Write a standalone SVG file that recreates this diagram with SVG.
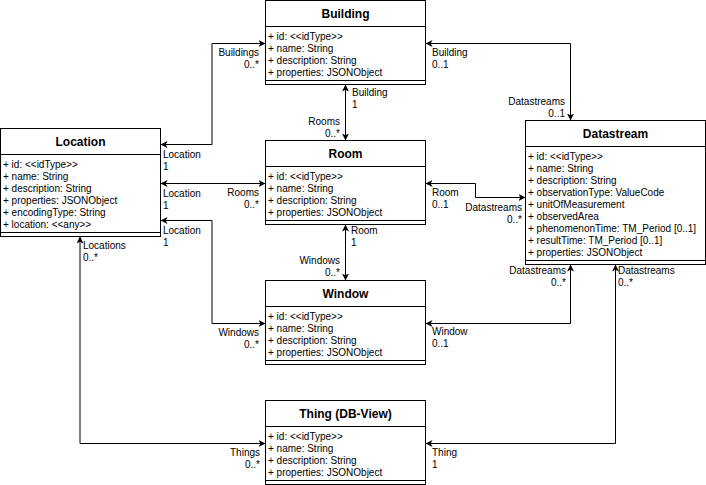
<svg xmlns="http://www.w3.org/2000/svg" width="706" height="485" viewBox="0 0 706 485">
<style>
.box{fill:#fff;stroke:#000;stroke-width:1}
.ln{stroke:#000;stroke-width:1;fill:none}
.t{font-family:"Liberation Sans",Arial,sans-serif;font-size:12px;font-weight:bold;text-anchor:middle;fill:#000}
.a{font-family:"Liberation Sans",Arial,sans-serif;font-size:10px;fill:#000}
.l{font-family:"Liberation Sans",Arial,sans-serif;font-size:10px;fill:#000}
.r{text-anchor:end}
.edge{stroke:#000;stroke-width:1;fill:none;marker-start:url(#arr);marker-end:url(#arr)}
</style>
<defs>
<marker id="arr" markerUnits="userSpaceOnUse" markerWidth="10" markerHeight="10" refX="7" refY="3.5" orient="auto-start-reverse">
<path d="M0,0 L7,3.5 L0,7 L1.8,3.5 Z" fill="#000"/>
</marker>
</defs>

<g id="Building">
<rect class="box" x="265.5" y="0.5" width="160" height="84"/>
<line class="ln" x1="265.5" y1="26.5" x2="425.5" y2="26.5"/>
<line class="ln" x1="265.5" y1="80.5" x2="425.5" y2="80.5"/>
<text class="t" x="345.5" y="18">Building</text>
<text class="a" x="268" y="40">+ id: &lt;&lt;idType&gt;&gt;</text>
<text class="a" x="268" y="52">+ name: String</text>
<text class="a" x="268" y="64">+ description: String</text>
<text class="a" x="268" y="76">+ properties: JSONObject</text>
</g>

<g id="Location">
<rect class="box" x="0.5" y="128.5" width="160" height="108"/>
<line class="ln" x1="0.5" y1="154.5" x2="160.5" y2="154.5"/>
<line class="ln" x1="0.5" y1="232.5" x2="160.5" y2="232.5"/>
<text class="t" x="80.5" y="146">Location</text>
<text class="a" x="3" y="168">+ id: &lt;&lt;idType&gt;&gt;</text>
<text class="a" x="3" y="180">+ name: String</text>
<text class="a" x="3" y="192">+ description: String</text>
<text class="a" x="3" y="204">+ properties: JSONObject</text>
<text class="a" x="3" y="216">+ encodingType: String</text>
<text class="a" x="3" y="228">+ location: &lt;&lt;any&gt;&gt;</text>
</g>

<g id="Room">
<rect class="box" x="265.5" y="140.5" width="160" height="84"/>
<line class="ln" x1="265.5" y1="166.5" x2="425.5" y2="166.5"/>
<line class="ln" x1="265.5" y1="220.5" x2="425.5" y2="220.5"/>
<text class="t" x="345.5" y="158">Room</text>
<text class="a" x="268" y="180">+ id: &lt;&lt;idType&gt;&gt;</text>
<text class="a" x="268" y="192">+ name: String</text>
<text class="a" x="268" y="204">+ description: String</text>
<text class="a" x="268" y="216">+ properties: JSONObject</text>
</g>

<g id="Datastream">
<rect class="box" x="525.5" y="120.5" width="180" height="144"/>
<line class="ln" x1="525.5" y1="146.5" x2="705.5" y2="146.5"/>
<line class="ln" x1="525.5" y1="260.5" x2="705.5" y2="260.5"/>
<text class="t" x="615.5" y="138">Datastream</text>
<text class="a" x="528" y="160">+ id: &lt;&lt;idType&gt;&gt;</text>
<text class="a" x="528" y="172">+ name: String</text>
<text class="a" x="528" y="184">+ description: String</text>
<text class="a" x="528" y="196">+ observationType: ValueCode</text>
<text class="a" x="528" y="208">+ unitOfMeasurement</text>
<text class="a" x="528" y="220">+ observedArea</text>
<text class="a" x="528" y="232">+ phenomenonTime: TM_Period [0..1]</text>
<text class="a" x="528" y="244">+ resultTime: TM_Period [0..1]</text>
<text class="a" x="528" y="256">+ properties: JSONObject</text>
</g>

<g id="Window">
<rect class="box" x="265.5" y="280.5" width="160" height="84"/>
<line class="ln" x1="265.5" y1="306.5" x2="425.5" y2="306.5"/>
<line class="ln" x1="265.5" y1="360.5" x2="425.5" y2="360.5"/>
<text class="t" x="345.5" y="298">Window</text>
<text class="a" x="268" y="320">+ id: &lt;&lt;idType&gt;&gt;</text>
<text class="a" x="268" y="332">+ name: String</text>
<text class="a" x="268" y="344">+ description: String</text>
<text class="a" x="268" y="356">+ properties: JSONObject</text>
</g>

<g id="Thing">
<rect class="box" x="265.5" y="400.5" width="160" height="84"/>
<line class="ln" x1="265.5" y1="426.5" x2="425.5" y2="426.5"/>
<line class="ln" x1="265.5" y1="480.5" x2="425.5" y2="480.5"/>
<text class="t" x="345.5" y="418">Thing (DB-View)</text>
<text class="a" x="268" y="440">+ id: &lt;&lt;idType&gt;&gt;</text>
<text class="a" x="268" y="452">+ name: String</text>
<text class="a" x="268" y="464">+ description: String</text>
<text class="a" x="268" y="476">+ properties: JSONObject</text>
</g>

<g id="connectors">
<path class="edge" d="M265.5,43.5 H212 V144.5 H160.5"/>
<path class="edge" d="M345.5,84.5 V140.5"/>
<path class="edge" d="M425.5,43.5 H570.5 V120.5"/>
<path class="edge" d="M160.5,183.5 H265.5"/>
<path class="edge" d="M160.5,220.5 H212 V323.5 H265.5"/>
<path class="edge" d="M425.5,183.5 H475.5 V197.5 H525.5"/>
<path class="edge" d="M345.5,224.5 V280.5"/>
<path class="edge" d="M425.5,323.5 H570.5 V264.5"/>
<path class="edge" d="M80,236.5 V443.5 H265.5"/>
<path class="edge" d="M615.5,264.5 V443.5 H425.5"/>

<text class="l r" x="259" y="56">Buildings</text>
<text class="l r" x="259" y="68">0..*</text>
<text class="l" x="163" y="158">Location</text>
<text class="l" x="163" y="170">1</text>

<text class="l" x="352" y="96">Building</text>
<text class="l" x="352" y="108">1</text>
<text class="l r" x="340" y="125">Rooms</text>
<text class="l r" x="340" y="137">0..*</text>

<text class="l" x="432" y="56">Building</text>
<text class="l" x="432" y="68">0..1</text>
<text class="l r" x="565" y="105">Datastreams</text>
<text class="l r" x="565" y="117">0..1</text>

<text class="l" x="163" y="197">Location</text>
<text class="l" x="163" y="209">1</text>
<text class="l r" x="259" y="196">Rooms</text>
<text class="l r" x="259" y="208">0..*</text>

<text class="l" x="163" y="234">Location</text>
<text class="l" x="163" y="246">1</text>
<text class="l r" x="259" y="336">Windows</text>
<text class="l r" x="259" y="348">0..*</text>

<text class="l" x="432" y="196">Room</text>
<text class="l" x="432" y="208">0..1</text>
<text class="l r" x="522" y="211">Datastreams</text>
<text class="l r" x="522" y="223">0..*</text>

<text class="l" x="351" y="234">Room</text>
<text class="l" x="351" y="246">1</text>
<text class="l r" x="340" y="264">Windows</text>
<text class="l r" x="340" y="276">0..*</text>

<text class="l" x="432" y="335">Window</text>
<text class="l" x="432" y="347">0..1</text>
<text class="l r" x="566" y="274">Datastreams</text>
<text class="l r" x="566" y="286">0..*</text>

<text class="l" x="83" y="249">Locations</text>
<text class="l" x="83" y="261">0..*</text>
<text class="l r" x="260" y="456">Things</text>
<text class="l r" x="260" y="468">0..*</text>

<text class="l" x="618" y="274">Datastreams</text>
<text class="l" x="618" y="286">0..*</text>
<text class="l" x="432" y="456">Thing</text>
<text class="l" x="432" y="468">1</text>
</g>
</svg>
